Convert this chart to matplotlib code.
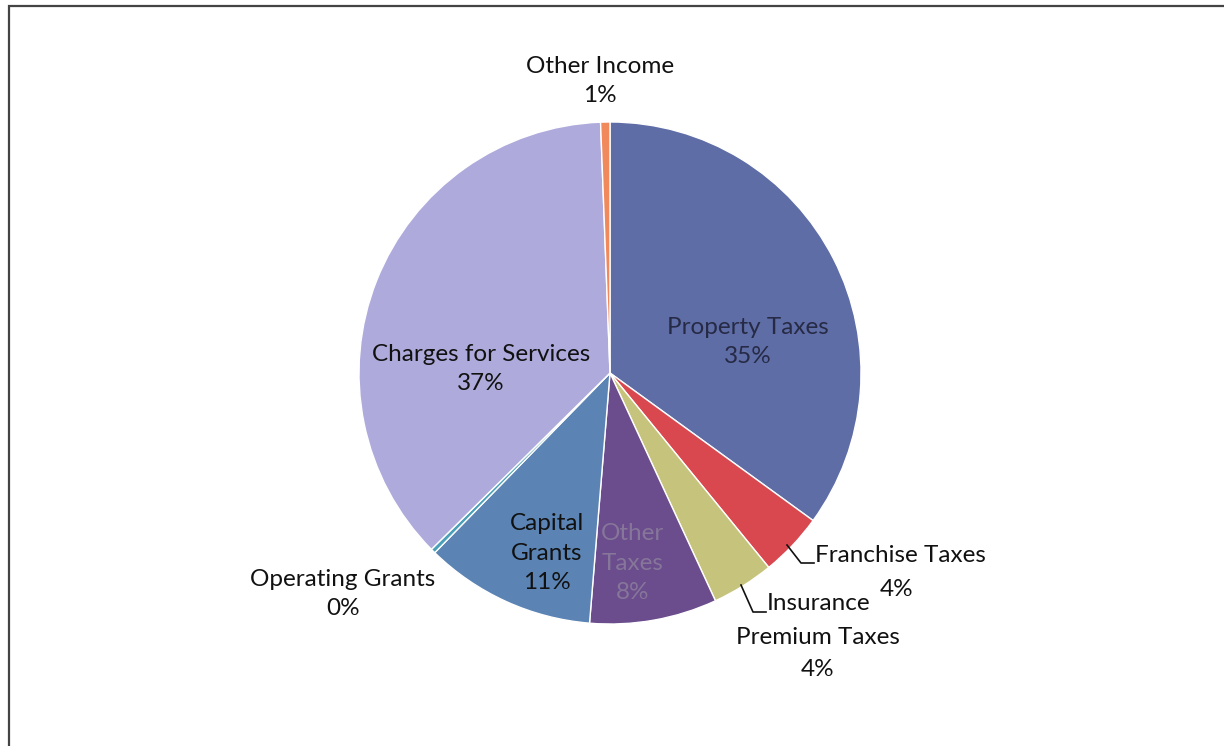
import matplotlib
matplotlib.use("Agg")
import matplotlib.pyplot as plt
from matplotlib.patches import Rectangle

# slice data, clockwise from 12 o'clock
categories = ["Property Taxes", "Franchise Taxes", "Insurance\nPremium Taxes", "Other\nTaxes",
              "Capital\nGrants", "Operating Grants", "Charges for Services", "Other Income"]
shares = [35.0, 4.1, 4.0, 8.2, 11.0, 0.3, 36.8, 0.6]
colors = ["#5e6da6", "#d9484e", "#c6c47c", "#6b4c8c", "#5b84b4", "#4aa0b8", "#aeabdc", "#f08a5c"]

W, H = 1224, 746
fig = plt.figure(figsize=(W / 100, H / 100), dpi=100)
ax = fig.add_axes([0, 0, 1, 1])

# chart frame (cut by the page edge on the right and bottom)
ax.add_patch(Rectangle((9, -20), W + 20, H - 6 + 20, fill=False, ec="#444444", lw=1.6))
# title, mostly clipped at the top of the scan
fig.text(0.5, 1.0 + 2 / H, "Revenue by Source - Governmental Activities", ha="center", va="bottom",
         fontsize=17, fontweight="bold", family="DejaVu Serif", color="#222222")

cx, cy, r = 610, H - 373, 251
ax.pie(shares, colors=colors, startangle=90, counterclock=False, center=(cx, cy), radius=r,
       wedgeprops=dict(edgecolor="white", linewidth=1.0), frame=True)
ax.set_xlim(0, W)
ax.set_ylim(0, H)
ax.set_aspect("equal")
ax.axis("off")

font = dict(family=["Lato", "DejaVu Sans"], fontsize=17.5, color="#111111", linespacing=1.5)


def pct(v):
    return f"{round(v):.0f}%"


def put(x, y, text, **kw):
    style = dict(font)
    style.update(kw)
    ax.text(x, H - y, text, ha="center", va="center", **style)


put(600, 81, f"Other Income\n{pct(shares[7])}")
put(748, 342, f"Property Taxes\n{pct(shares[0])}", color="#262a45")
put(481, 369, f"Charges for Services\n{pct(shares[6])}")
put(547, 553, f"Capital\nGrants\n{pct(shares[4])}")
put(633, 563, f"Other\nTaxes\n{pct(shares[3])}", color="#85769a")
put(343, 594, f"Operating Grants\n{pct(shares[5])}")

# outside labels with leader lines
ax.plot([787, 801, 814], [H - 545, H - 563, H - 563], color="#111111", lw=1.2)
ax.text(815, H - 556, "Franchise Taxes", ha="left", va="center", **font)
put(897, 590, pct(shares[1]))
ax.plot([741, 753, 766], [H - 585, H - 612, H - 612], color="#111111", lw=1.2)
ax.text(767, H - 604, "Insurance", ha="left", va="center", **font)
put(818, 637, "Premium Taxes")
put(818, 669, pct(shares[2]))

fig.savefig("out.png", dpi=100)
